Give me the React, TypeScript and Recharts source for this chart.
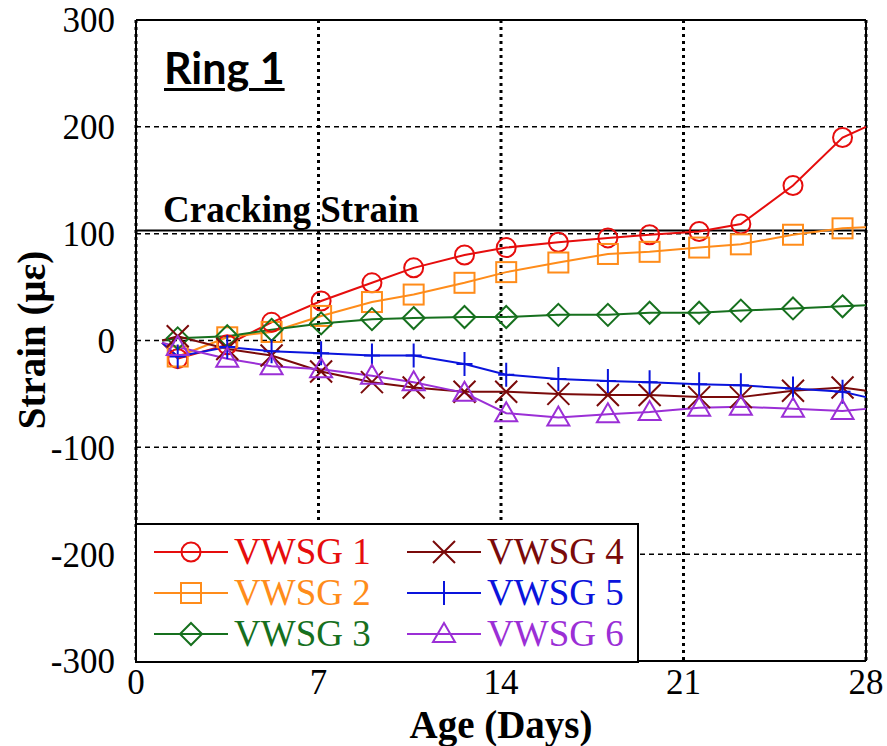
import React from "react";
import {
  LineChart, Line, XAxis, YAxis, CartesianGrid, ReferenceLine,
} from "recharts";

// ─── Data ─────────────────────────────────────────────────────────────────────

const DAYS = [1.0, 1.6, 3.5, 5.2, 7.1, 9.05, 10.65, 12.6, 14.2, 16.2, 18.1, 19.7, 21.6, 23.2, 25.2, 27.1, 28];

const VWSG1 = [-2, -17, -4, 17, 37, 54, 68, 80, 87, 92, 96, 99, 102, 109, 145, 190, 200];
const VWSG2 = [-2, -15, 3, 8, 23, 36, 43, 54, 64, 73, 81, 83, 87, 90, 99, 105, 106];
const VWSG3 = [0, 2, 4, 10, 16, 20, 21, 22, 22, 24, 24, 26, 26, 28, 30, 32, 33];
const VWSG4 = [0, 4, -8, -14, -29, -39, -44, -48, -48, -50, -51, -51, -53, -53, -47, -44, -47];
const VWSG5 = [-2, -15, -6, -10, -12, -14, -14, -22, -32, -36, -38, -39, -41, -42, -45, -48, -53];
const VWSG6 = [-2, -6, -17, -24, -27, -33, -39, -49, -68, -72, -69, -67, -63, -62, -64, -66, -64];

const CRACKING_STRAIN = 103;

const X_TICKS = [0, 7, 14, 21, 28];
const Y_TICKS = [-300, -200, -100, 0, 100, 200, 300];

type Shape = "circle" | "square" | "diamond" | "x" | "plus" | "triangle";

const SERIES: { key: string; name: string; color: string; shape: Shape; values: number[] }[] = [
  { key: "s1", name: "VWSG 1", color: "#E60D0D", shape: "circle",   values: VWSG1 },
  { key: "s2", name: "VWSG 2", color: "#FF8C1A", shape: "square",   values: VWSG2 },
  { key: "s3", name: "VWSG 3", color: "#16701E", shape: "diamond",  values: VWSG3 },
  { key: "s4", name: "VWSG 4", color: "#7A0A0A", shape: "x",        values: VWSG4 },
  { key: "s5", name: "VWSG 5", color: "#0A14DC", shape: "plus",     values: VWSG5 },
  { key: "s6", name: "VWSG 6", color: "#9B2FD6", shape: "triangle", values: VWSG6 },
];

const LEGEND_ORDER = [0, 3, 1, 4, 2, 5];

const SERIF = "'Liberation Serif', 'Times New Roman', serif";

// ─── Markers ──────────────────────────────────────────────────────────────────

function Marker({ shape, color, cx, cy }: { shape: Shape; color: string; cx: number; cy: number }) {
  const sw = 2;
  switch (shape) {
    case "circle":
      return <circle cx={cx} cy={cy} r={9.5} fill="none" stroke={color} strokeWidth={sw} />;
    case "square":
      return <rect x={cx - 10} y={cy - 10} width={20} height={20} fill="none" stroke={color} strokeWidth={sw} />;
    case "diamond":
      return <polygon points={`${cx},${cy - 11} ${cx + 11},${cy} ${cx},${cy + 11} ${cx - 11},${cy}`} fill="none" stroke={color} strokeWidth={sw} />;
    case "x":
      return <path d={`M${cx - 11},${cy - 11}L${cx + 11},${cy + 11}M${cx - 11},${cy + 11}L${cx + 11},${cy - 11}`} stroke={color} strokeWidth={sw} />;
    case "plus":
      return <path d={`M${cx},${cy - 12}V${cy + 12}M${cx - 8},${cy}H${cx + 8}`} stroke={color} strokeWidth={sw} />;
    case "triangle":
      return <polygon points={`${cx},${cy - 11} ${cx + 11},${cy + 8} ${cx - 11},${cy + 8}`} fill="none" stroke={color} strokeWidth={sw} />;
  }
}

function renderDot(p: any, shape: Shape, color: string) {
  const k = `${shape}-${p.index}`;
  if (p.index === 0 || p.index === DAYS.length - 1 || p.cx == null) return <g key={k} />;
  return (
    <g key={k}>
      <Marker shape={shape} color={color} cx={p.cx} cy={p.cy} />
    </g>
  );
}

// ─── Main ─────────────────────────────────────────────────────────────────────

export default function App() {
  const data = DAYS.map((d, i) => {
    const row: Record<string, number> = { day: d };
    SERIES.forEach((s) => { row[s.key] = s.values[i]; });
    return row;
  });

  const tickStyle = { fill: "#000", fontSize: 35, fontFamily: SERIF };

  return (
    <div style={{ position: "absolute", left: 0, top: 0, width: 887, height: 746, background: "#fff" }}>
      <LineChart width={887} height={746} data={data} margin={{ top: 20, right: 21, left: 0, bottom: 25 }}>
        <CartesianGrid horizontal vertical={false} stroke="#000" strokeWidth={1.5} strokeDasharray="5 4" />
        <CartesianGrid horizontal={false} vertical stroke="#000" strokeWidth={3} strokeDasharray="3 4" />
        <XAxis
          type="number"
          dataKey="day"
          domain={[0, 28]}
          ticks={X_TICKS}
          tick={tickStyle}
          tickSize={0}
          tickMargin={8}
          height={60}
          axisLine={{ stroke: "#000", strokeWidth: 2 }}
        />
        <YAxis
          type="number"
          domain={[-300, 300]}
          ticks={Y_TICKS}
          tick={tickStyle}
          tickSize={0}
          tickMargin={21}
          width={136}
          axisLine={{ stroke: "#000", strokeWidth: 2 }}
        />
        <ReferenceLine y={300} stroke="#000" strokeWidth={2} />
        <ReferenceLine x={28} stroke="#000" strokeWidth={2} />
        <ReferenceLine
          y={CRACKING_STRAIN}
          stroke="#000"
          strokeWidth={2}
          label={{
            value: "Cracking Strain",
            position: "insideBottomLeft",
            offset: 8,
            dx: 19,
            style: { fill: "#000", fontSize: 37, fontWeight: 700, fontFamily: SERIF },
          }}
        />
        {SERIES.map((s) => (
          <Line
            key={s.key}
            type="linear"
            dataKey={s.key}
            name={s.name}
            stroke={s.color}
            strokeWidth={2}
            dot={(p: any) => renderDot(p, s.shape, s.color)}
            activeDot={false}
            isAnimationActive={false}
          />
        ))}
      </LineChart>

      {/* Ring label */}
      <div style={{
        position: "absolute", left: 164, top: 45, fontFamily: "Lato, 'Open Sans', sans-serif",
        fontWeight: 700, fontSize: 43, lineHeight: "46px", textDecoration: "underline",
        textDecorationThickness: 3, textUnderlineOffset: 4, color: "#000",
      }}>
        Ring 1
      </div>

      {/* Axis titles */}
      <div style={{
        position: "absolute", left: 32, top: 340, transform: "translate(-50%, -50%) rotate(-90deg)",
        whiteSpace: "nowrap", fontFamily: SERIF, fontWeight: 700, fontSize: 39, lineHeight: "40px", color: "#000",
      }}>
        Strain (με)
      </div>
      <div style={{
        position: "absolute", left: 501, top: 725, transform: "translate(-50%, -50%)",
        whiteSpace: "nowrap", fontFamily: SERIF, fontWeight: 700, fontSize: 39, lineHeight: "30px", color: "#000",
      }}>
        Age (Days)
      </div>

      {/* Legend */}
      <div style={{
        position: "absolute", left: 135, top: 523, width: 500, height: 136,
        border: "2px solid #000", background: "#fff",
        display: "grid", gridTemplateColumns: "253px 247px", alignContent: "center", rowGap: 1,
      }}>
        {LEGEND_ORDER.map((i) => {
          const s = SERIES[i];
          return (
            <div key={s.key} style={{ display: "flex", alignItems: "center", height: 40 }}>
              <svg width={100} height={30} style={{ marginLeft: 15, flex: "none" }}>
                <line x1={2} x2={76} y1={15} y2={15} stroke={s.color} strokeWidth={2} />
                <Marker shape={s.shape} color={s.color} cx={39} cy={15} />
              </svg>
              <span style={{ fontFamily: SERIF, fontSize: 37, lineHeight: "40px", color: s.color, marginLeft: -18, whiteSpace: "nowrap" }}>
                {s.name}
              </span>
            </div>
          );
        })}
      </div>
    </div>
  );
}
